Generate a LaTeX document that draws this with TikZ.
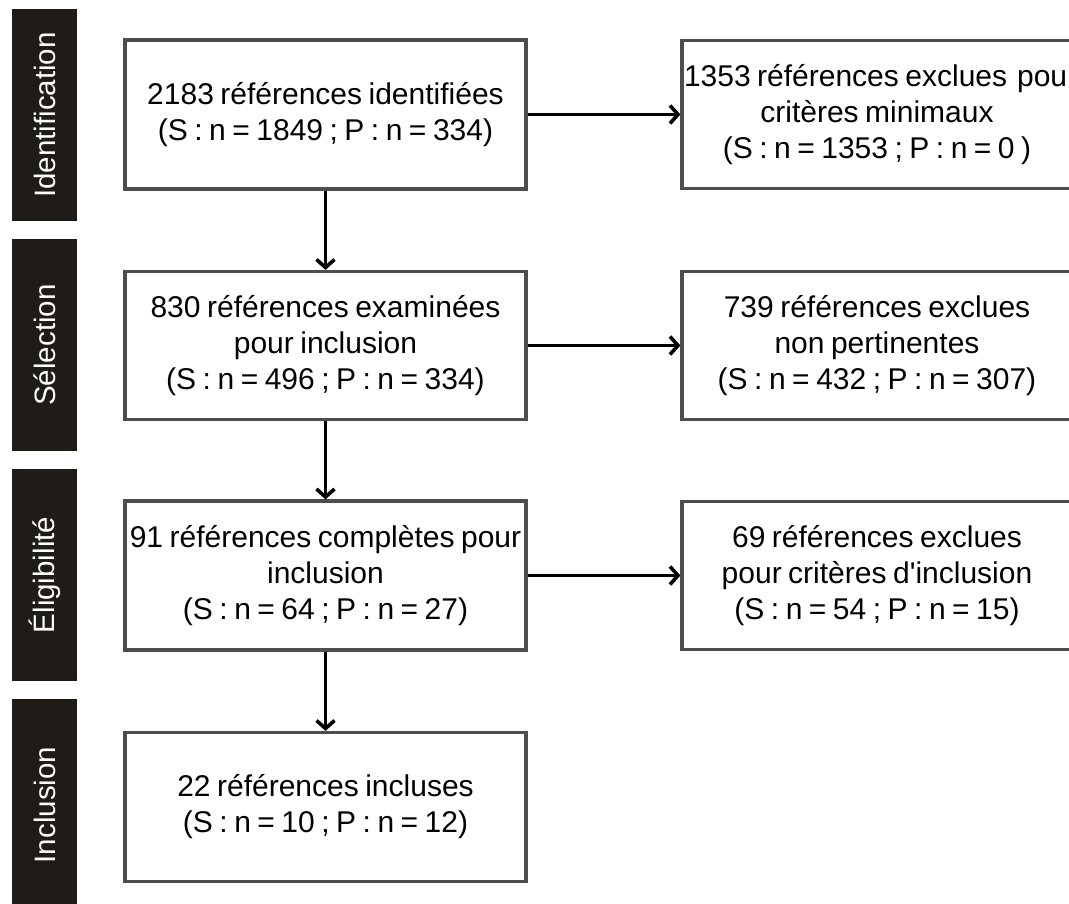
\documentclass[tikz,border=0pt]{standalone}
\usepackage{fontspec}
\setmainfont{Liberation Sans}
\usetikzlibrary{arrows.meta}
\definecolor{barcol}{HTML}{1F1B16}
\definecolor{boxcol}{HTML}{4D4D4D}
\newcommand{\myboxfont}{\fontsize{30}{36}\selectfont\spaceskip=6.5pt plus 1pt minus 1pt\relax}
\begin{document}
\begin{tikzpicture}[x=1pt,y=-1pt,
  phasebar/.style={fill=barcol, draw=none, rotate=90, minimum width=212pt, minimum height=65pt,
    inner sep=0pt, text=white, font=\fontsize{29.5}{34}\selectfont},
  flowbox/.style={draw=boxcol, line width=3.2pt, fill=white, minimum width=401pt, minimum height=149pt,
    align=center, inner sep=0pt, font=\myboxfont},
  rbox/.style={flowbox, minimum width=390pt},
  arr/.style={line width=3.6pt, -{Straight Barb[length=8pt,width=18pt,line width=3.6pt]}}
]
\useasboundingbox (0,0) rectangle (1069,904);
% phase bars
\node[phasebar] (p1) at (44.5,115) {Identification};
\node[phasebar] (p2) at (44.5,345) {Sélection};
\node[phasebar] (p3) at (44.5,575) {Éligibilité};
\node[phasebar] (p4) at (44.5,805) {Inclusion};
% left column
\node[flowbox] (l1) at (325.5,114.5) {2183 références identifiées\\(S : n = 1849 ; P : n = 334)};
\node[flowbox, minimum height=148pt] (l2) at (325.5,345.5) {830 références examinées\\pour inclusion\\(S : n = 496 ; P : n = 334)};
\node[flowbox] (l3) at (325.5,575.5) {91 références complètes pour\\inclusion\\(S : n = 64 ; P : n = 27)};
\node[flowbox] (l4) at (325.5,807) {22 références incluses\\(S : n = 10 ; P : n = 12)};
% right column
\node[rbox, minimum height=148pt] (r1) at (877,114.5) {\makebox[386pt][l]{1353 références exclues\hspace{10pt}pour}\\critères minimaux\\(S : n = 1353 ; P : n = 0 )};
\node[rbox, minimum height=148pt] (r2) at (877,345.5) {739 références exclues\\non pertinentes\\(S : n = 432 ; P : n = 307)};
\node[rbox, minimum height=148pt] (r3) at (877,575.5) {69 références exclues\\pour critères d\textquotesingle inclusion\\(S : n = 54 ; P : n = 15)};
% connectors
\draw[arr] (l1) -- (l2);
\draw[arr] (l2) -- (l3);
\draw[arr] (l3) -- (l4);
\draw[arr] (l1) -- (r1);
\draw[arr] (l2) -- (r2);
\draw[arr] (l3) -- (r3);
\end{tikzpicture}
\end{document}
